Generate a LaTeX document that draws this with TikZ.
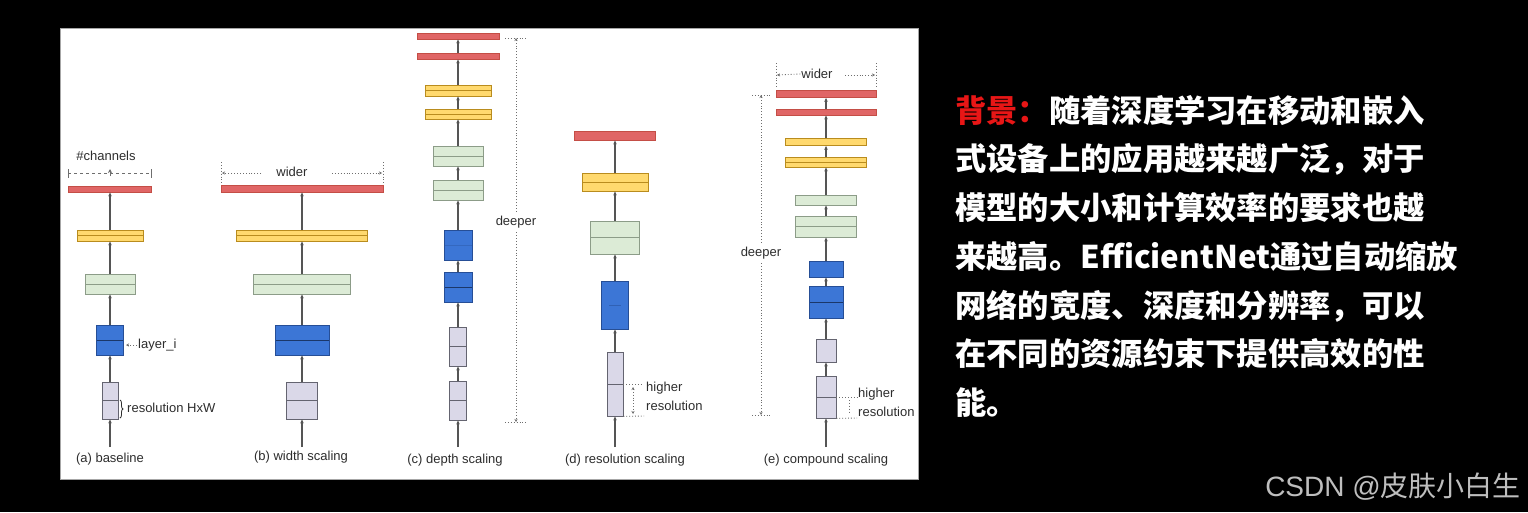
\documentclass[tikz,border=0pt]{standalone}
\usepackage{fontspec}
\usetikzlibrary{arrows.meta, decorations.pathreplacing}
\newfontfamily\cjk{Noto Sans CJK SC}
\newfontfamily\diag{Liberation Sans}
\definecolor{rfill}{RGB}{224,102,102}
\definecolor{rline}{RGB}{196,78,70}
\definecolor{yfill}{RGB}{255,217,110}
\definecolor{yline}{RGB}{185,140,30}
\definecolor{gfill}{RGB}{220,235,214}
\definecolor{gline}{RGB}{140,156,136}
\definecolor{bfill}{RGB}{60,118,214}
\definecolor{bline}{RGB}{38,78,150}
\definecolor{lfill}{RGB}{218,216,232}
\definecolor{lline}{RGB}{100,100,112}
\definecolor{flowgray}{RGB}{85,85,85}
\definecolor{txtgray}{RGB}{45,45,45}
\definecolor{dimgray}{RGB}{110,110,110}
\definecolor{bgred}{RGB}{232,22,22}
\definecolor{markgray}{RGB}{190,190,190}
\tikzset{
    blk/.style={draw, line width=0.8pt, inner sep=0pt},
    sz/.style 2 args={minimum width=#1pt, minimum height=#2pt},
    halves/.style={path picture={\draw[line width=0.8pt, #1] (path picture bounding box.west) -- (path picture bounding box.east);}},
    redbar/.style={blk, fill=rfill, draw=rline},
    yelbar/.style={blk, fill=yfill, draw=yline},
    grnbox/.style={blk, fill=gfill, draw=gline},
    blubox/.style={blk, fill=bfill, draw=bline},
    lavbox/.style={blk, fill=lfill, draw=lline},
    flow/.style={draw=flowgray, line width=1.2pt, -{Stealth[length=4pt,width=3.5pt]}},
    dimline/.style={draw=dimgray, line width=0.9pt, dotted},
    dimtip/.style={dimline, -{Stealth[length=3pt,width=3pt]}},
    lbl/.style={font=\diag\fontsize{13}{19}\selectfont, text=txtgray, inner sep=1pt}
}
\begin{document}
\begin{tikzpicture}[x=1pt, y=-1pt]
    \useasboundingbox (0,0) rectangle (1528,512);
    \fill[black] (0,0) rectangle (1528,512);
    \draw[fill=white, draw=gray!70, line width=1pt] (60,28) rectangle (918,479);

    % (a) baseline
    \coordinate (a0) at (110,447);
    \node[lavbox, sz={16}{37}, halves=lline] (a1) at (110,400.5) {};
    \node[blubox, sz={27}{30}, halves=bline!70!black] (a2) at (110,340) {};
    \node[grnbox, sz={50}{20}, halves=gline] (a3) at (110,284) {};
    \node[yelbar, sz={66}{11}, halves=yline] (a4) at (110,235.5) {};
    \node[redbar, sz={83}{6}] (a5) at (110,189) {};
    \draw[flow] (a0) -- (a1.south);
    \draw[flow] (a1.north) -- (a2.south);
    \draw[flow] (a2.north) -- (a3.south);
    \draw[flow] (a3.north) -- (a4.south);
    \draw[flow] (a4.north) -- (a5.south);
    \node[lbl] (achan) at (106,156) {\#channels};
    \draw[draw=dimgray, line width=0.9pt, dashed] (68,173) -- (151,173);
    \draw[draw=dimgray, line width=0.9pt] (68,169) -- (68,178) (151,169) -- (151,178);
    \draw[draw=dimgray, line width=0.9pt, -{Stealth[length=4pt,width=4pt]}] (110,176) -- (110,169);
    \node[lbl, anchor=west] (alayer) at (137,345) {layer\_i};
    \coordinate (alayertip) at (126,345);
    \draw[dimtip] (alayer.west) -- (alayertip);
    \draw[decorate, decoration={brace, amplitude=3pt}, draw=txtgray, line width=0.8pt] (120,400) -- (120,418);
    \node[lbl, anchor=west] (ares) at (126,408) {resolution HxW};
    \node[lbl] (acap) at (110,459) {(a) baseline};

    % (b) width scaling
    \coordinate (b0) at (302,447);
    \node[lavbox, sz={31}{37}, halves=lline] (b1) at (302,400.5) {};
    \node[blubox, sz={54}{30}, halves=bline!70!black] (b2) at (302,340) {};
    \node[grnbox, sz={97}{20}, halves=gline] (b3) at (302,284) {};
    \node[yelbar, sz={131}{11}, halves=yline] (b4) at (302,235.5) {};
    \node[redbar, sz={162}{7}] (b5) at (302,188.5) {};
    \draw[flow] (b0) -- (b1.south);
    \draw[flow] (b1.north) -- (b2.south);
    \draw[flow] (b2.north) -- (b3.south);
    \draw[flow] (b3.north) -- (b4.south);
    \draw[flow] (b4.north) -- (b5.south);
    \node[lbl] (bwide) at (292,172) {wider};
    \coordinate (bl) at (222,173);
    \coordinate (br) at (382,173);
    \draw[dimline] (221,162) -- (221,183) (383,162) -- (383,183);
    \draw[dimtip] (261,173) -- (bl);
    \draw[dimtip] (332,173) -- (br);
    \node[lbl] (bcap) at (301,457) {(b) width scaling};

    % (c) depth scaling
    \coordinate (c0) at (458,447);
    \node[lavbox, sz={17}{39}, halves=lline] (c1) at (458,400.5) {};
    \node[lavbox, sz={17}{39}, halves=lline] (c2) at (458,346.5) {};
    \node[blubox, sz={28}{30}, halves=bline!70!black] (c3) at (458,287) {};
    \node[blubox, sz={28}{30}, halves={bline, opacity=.35}] (c4) at (458,245) {};
    \node[grnbox, sz={50}{20}, halves=gline] (c5) at (458,190) {};
    \node[grnbox, sz={50}{20}, halves=gline] (c6) at (458,156) {};
    \node[yelbar, sz={66}{10}, halves=yline] (c7) at (458,114) {};
    \node[yelbar, sz={66}{11}, halves=yline] (c8) at (458,90.5) {};
    \node[redbar, sz={82}{6}] (c9) at (458,56) {};
    \node[redbar, sz={82}{6}] (c10) at (458,36) {};
    \draw[flow] (c0) -- (c1.south);
    \foreach \i [count=\j from 2] in {1,...,9}
        \draw[flow] (c\i.north) -- (c\j.south);
    \node[lbl, inner sep=4pt] (cdeep) at (516,222) {deeper};
    \coordinate (ctop) at (516,38);
    \coordinate (cbot) at (516,422);
    \draw[dimline] (505,38) -- (527,38) (505,422) -- (527,422);
    \draw[dimtip] (cdeep.north) -- (ctop);
    \draw[dimtip] (cdeep.south) -- (cbot);
    \node[lbl] (ccap) at (455,460) {(c) depth scaling};

    % (d) resolution scaling
    \coordinate (d0) at (615,447);
    \node[lavbox, sz={16}{64}, halves=lline] (d1) at (615,384) {};
    \node[blubox, sz={27}{48}] (d2) at (615,305) {};
    \draw[draw=bline, opacity=.5, line width=0.8pt] (609,305) -- (621,305);
    \node[grnbox, sz={49}{33}, halves=gline] (d3) at (615,237.5) {};
    \node[yelbar, sz={66}{18}, halves=yline] (d4) at (615,182) {};
    \node[redbar, sz={81}{9}] (d5) at (615,135.5) {};
    \draw[flow] (d0) -- (d1.south);
    \draw[flow] (d1.north) -- (d2.south);
    \draw[flow] (d2.north) -- (d3.south);
    \draw[flow] (d3.north) -- (d4.south);
    \draw[flow] (d4.north) -- (d5.south);
    \coordinate (dhi) at (642,384);
    \coordinate (dlo) at (644,416);
    \draw[dimline] (d1.east) -- (dhi);
    \draw[dimline] (d1.south east) -- (dlo);
    \draw[dimline, {Stealth[length=3pt,width=3pt]}-{Stealth[length=3pt,width=3pt]}] (633,387) -- (633,414);
    \node[lbl, anchor=west, align=left] (dres) at (645,396) {higher\\resolution};
    \node[lbl] (dcap) at (625,460) {(d) resolution scaling};

    % (e) compound scaling
    \coordinate (e0) at (826,447);
    \node[lavbox, sz={20}{42}, halves=lline] (e1) at (826,397) {};
    \node[lavbox, sz={20}{23}] (e2) at (826,350.5) {};
    \node[blubox, sz={34}{32}, halves=bline!70!black] (e3) at (826,302) {};
    \node[blubox, sz={34}{16}] (e4) at (826,269) {};
    \node[grnbox, sz={61}{21}, halves=gline] (e5) at (826,226.5) {};
    \node[grnbox, sz={61}{10}] (e6) at (826,200) {};
    \node[yelbar, sz={81}{10}, halves=yline] (e7) at (826,162) {};
    \node[yelbar, sz={81}{7}] (e8) at (826,142) {};
    \node[redbar, sz={100}{6}] (e9) at (826,112) {};
    \node[redbar, sz={100}{7}] (e10) at (826,94) {};
    \draw[flow] (e0) -- (e1.south);
    \foreach \i [count=\j from 2] in {1,...,9}
        \draw[flow] (e\i.north) -- (e\j.south);
    \node[lbl] (ewide) at (817,74) {wider};
    \coordinate (el) at (777,75);
    \coordinate (er) at (875,75);
    \draw[dimline] (776,63) -- (776,87) (876,63) -- (876,87);
    \draw[dimtip] (ewide.west) -- (el);
    \draw[dimtip] (845,75) -- (er);
    \node[lbl, inner sep=4pt] (edeep) at (761,253) {deeper};
    \coordinate (etop) at (761,95);
    \coordinate (ebot) at (761,415);
    \draw[dimline] (752,95) -- (771,95) (752,415) -- (771,415);
    \draw[dimtip] (edeep.north) -- (etop);
    \draw[dimtip] (edeep.south) -- (ebot);
    \node[lbl, anchor=west, align=left] (eres) at (857,402) {higher\\resolution};
    \coordinate (ehi) at (857,397);
    \coordinate (elo) at (857,418);
    \draw[dimline] (e1.east) -- (ehi);
    \draw[dimline] (e1.south east) -- (elo);
    \draw[dimline] (849,400) -- (849,413);
    \node[lbl] (ecap) at (826,460) {(e) compound scaling};

    % background text
    \node[anchor=north west, inner sep=0pt, align=left, text=white,
          font=\cjk\bfseries\fontsize{31.3}{48.7}\selectfont] (bgtext) at (955,95)
        {{\color{bgred}背景：}随着深度学习在移动和嵌入\\
         式设备上的应用越来越广泛，对于\\
         模型的大小和计算效率的要求也越\\
         来越高。EfficientNet通过自动缩放\\
         网络的宽度、深度和分辨率，可以\\
         在不同的资源约束下提供高效的性\\
         能。};
    \node[anchor=east, inner sep=0pt, text=markgray,
          font=\cjk\fontsize{28}{30}\selectfont] (mark) at (1521,487) {{\diag CSDN @}皮肤小白生};
\end{tikzpicture}
\end{document}
